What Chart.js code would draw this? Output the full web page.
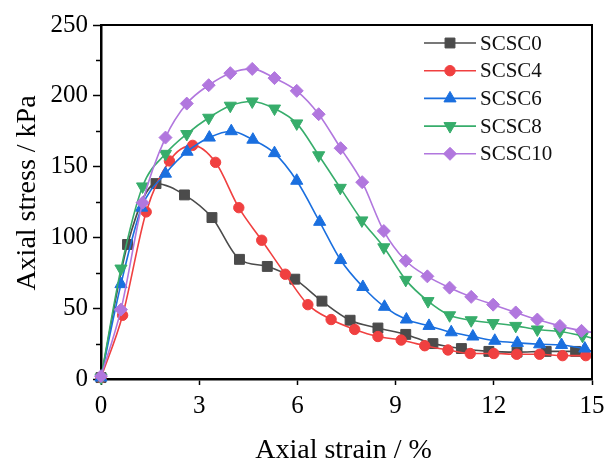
<!DOCTYPE html>
<html>
<head>
<meta charset="utf-8">
<script src="https://cdn.jsdelivr.net/npm/chart.js@4/dist/chart.umd.min.js"></script>
<style>
  html, body { margin: 0; padding: 0; background: #ffffff; }
  #wrap { width: 604px; height: 462px; position: relative; }
</style>
</head>
<body>
<div id="wrap"><canvas id="c" width="604" height="462"></canvas></div>
<script>
// Stress–strain curves of the SCSC specimens
const seriesNames = ['SCSC0', 'SCSC4', 'SCSC6', 'SCSC8', 'SCSC10'];

const strain0  = [0, 0.81, 1.68, 2.55, 3.39, 4.23, 5.08, 5.92, 6.75, 7.61, 8.46, 9.31, 10.14, 11.01, 11.85, 12.71, 13.6, 14.5, 15];
const stress0  = [1, 95, 138, 130, 114, 84.5, 79.5, 70.5, 55, 41.5, 36, 31.5, 25, 21.5, 19.5, 19, 19.5, 19.5, 20];

const strain4  = [0, 0.66, 1.38, 2.09, 2.80, 3.50, 4.21, 4.91, 5.63, 6.32, 7.03, 7.75, 8.46, 9.17, 9.89, 10.6, 11.28, 12.0, 12.7, 13.4, 14.1, 14.81];
const stress4  = [1, 45, 118, 154, 165, 153, 121, 98, 74, 52.5, 42, 35, 30, 27.5, 23.5, 20.5, 18, 18, 17.5, 17.5, 16.5, 16.5];

const strain6  = [0, 0.61, 1.24, 1.97, 2.63, 3.31, 3.98, 4.64, 5.30, 5.98, 6.68, 7.32, 8.0, 8.66, 9.33, 10.02, 10.7, 11.36, 12.03, 12.72, 13.4, 14.07, 14.78];
const stress6  = [1, 67, 121, 145, 160.5, 170.5, 175, 169, 159.5, 140, 111, 84, 65, 51, 42, 37.5, 33, 30, 27, 25.5, 24.5, 24, 21.5];

const strain8  = [0, 0.61, 1.27, 1.97, 2.62, 3.29, 3.95, 4.62, 5.30, 5.98, 6.65, 7.31, 7.97, 8.64, 9.31, 9.99, 10.65, 11.31, 11.98, 12.67, 13.33, 14.02, 14.71, 15];
const stress8  = [1, 78, 136, 159, 173, 184.5, 193, 196, 191, 180.5, 158, 135, 112, 93, 70, 55, 45, 41.5, 39.5, 37.5, 35, 33.5, 30.5, 29];

const strain10 = [0, 0.61, 1.27, 1.97, 2.62, 3.29, 3.95, 4.62, 5.30, 5.98, 6.65, 7.32, 7.98, 8.64, 9.31, 9.97, 10.65, 11.31, 11.98, 12.67, 13.33, 14.02, 14.68, 15];
const stress10 = [2, 49, 124.5, 170.5, 194.5, 207.5, 216, 219, 212.5, 203.5, 187, 163, 139, 104.5, 83.5, 72.5, 64.5, 58, 52.5, 47, 42, 37.5, 34, 33];

// curves whose last value is only the end of the line (no symbol there)
const lineRunsToEdge = [true, false, false, true, true];

const xTicks = [0, 3, 6, 9, 12, 15];
const yTicks = [0, 50, 100, 150, 200, 250];

const colors = ['#4b4b4b', '#f04040', '#1a6fdf', '#37ad6b', '#b177de'];
const markers = [
  { pointStyle: 'rect',     radius: 7,   rotation: 0 },
  { pointStyle: 'circle',   radius: 5.2, rotation: 0 },
  { pointStyle: 'triangle', radius: 7,   rotation: 0 },
  { pointStyle: 'triangle', radius: 7,   rotation: 180 },
  { pointStyle: 'rectRot',  radius: 6.5, rotation: 0 }
];

const SERIF = '"Liberation Serif", "Times New Roman", serif';

const strains = [strain0, strain4, strain6, strain8, strain10];
const stresses = [stress0, stress4, stress6, stress8, stress10];

const datasets = seriesNames.map((name, i) => {
  const n = strains[i].length;
  return {
    label: name,
    data: strains[i].map((x, k) => ({ x: x, y: stresses[i][k] })),
    borderColor: colors[i],
    backgroundColor: colors[i],
    pointBackgroundColor: colors[i],
    pointBorderColor: colors[i],
    borderWidth: 1.6,
    pointBorderWidth: 1,
    pointStyle: markers[i].pointStyle,
    pointRotation: markers[i].rotation,
    pointRadius: ctx => (lineRunsToEdge[i] && ctx.dataIndex === n - 1) ? 0 : markers[i].radius,
    pointHoverRadius: markers[i].radius,
    cubicInterpolationMode: 'monotone',
    clip: false,
    order: seriesNames.length - i
  };
});

// frame, minor ticks, axis titles and legend
const decorations = {
  id: 'decorations',
  afterDraw(chart) {
    const ctx = chart.ctx;
    const a = chart.chartArea;
    const ys = chart.scales.y;
    ctx.save();
    ctx.strokeStyle = '#000';
    ctx.lineWidth = 2;
    ctx.beginPath();
    ctx.moveTo(a.left, a.top);
    ctx.lineTo(a.right, a.top);
    ctx.lineTo(a.right, a.bottom);
    ctx.stroke();

    // minor ticks on the stress axis
    ctx.lineWidth = 1.5;
    for (let v = 25; v < 250; v += 50) {
      const py = Math.round(ys.getPixelForValue(v)) + 0.5;
      ctx.beginPath();
      ctx.moveTo(a.left - 5, py);
      ctx.lineTo(a.left, py);
      ctx.stroke();
    }

    // axis titles
    ctx.fillStyle = '#000';
    ctx.font = '28px ' + SERIF;
    ctx.textAlign = 'center';
    ctx.textBaseline = 'alphabetic';
    ctx.fillText('Axial strain / %', (a.left + a.right) / 2 - 3, 458);
    ctx.save();
    ctx.translate(35, 193);
    ctx.rotate(-Math.PI / 2);
    ctx.fillText('Axial stress / kPa', 0, 0);
    ctx.restore();

    // legend
    const lx0 = 424, lx1 = 476, tx = 480, y0 = 43, dy = 27.7;
    ctx.font = '21px ' + SERIF;
    ctx.textAlign = 'left';
    ctx.textBaseline = 'middle';
    seriesNames.forEach((name, i) => {
      const y = y0 + i * dy;
      ctx.strokeStyle = colors[i];
      ctx.lineWidth = 1.6;
      ctx.beginPath();
      ctx.moveTo(lx0, y);
      ctx.lineTo(lx1, y);
      ctx.stroke();
      ctx.fillStyle = colors[i];
      ctx.lineWidth = 1;
      Chart.helpers.drawPoint(ctx, {
        pointStyle: markers[i].pointStyle,
        rotation: markers[i].rotation,
        radius: markers[i].radius,
        borderWidth: 1
      }, (lx0 + lx1) / 2, y);
      ctx.fillStyle = '#111';
      ctx.fillText(name, tx, y + 1);
    });
    ctx.restore();
  }
};

new Chart(document.getElementById('c'), {
  type: 'line',
  data: { datasets: datasets },
  options: {
    responsive: false,
    animation: false,
    events: [],
    layout: { padding: { left: 1, right: 12, top: 25, bottom: 0 } },
    plugins: { legend: { display: false }, tooltip: { enabled: false } },
    scales: {
      x: {
        type: 'linear',
        min: 0, max: 15,
        afterFit: s => { s.height = 83; s.paddingLeft = 0; s.paddingRight = 0; },
        afterBuildTicks: s => { s.ticks = xTicks.map(v => ({ value: v })); },
        grid: { display: true, drawOnChartArea: false, drawTicks: true, tickLength: 6, tickWidth: 1.5, tickColor: '#000' },
        border: { display: true, color: '#000', width: 2.5 },
        ticks: { color: '#000', font: { family: SERIF, size: 25 }, padding: 6, maxRotation: 0 }
      },
      y: {
        type: 'linear',
        min: 0, max: 250,
        afterFit: s => { s.width = 100; s.paddingTop = 0; s.paddingBottom = 0; },
        afterBuildTicks: s => { s.ticks = yTicks.map(v => ({ value: v })); },
        grid: { display: true, drawOnChartArea: false, drawTicks: true, tickLength: 8, tickWidth: 1.5, tickColor: '#000' },
        border: { display: true, color: '#000', width: 2.5 },
        ticks: { color: '#000', font: { family: SERIF, size: 25 }, padding: 5 }
      }
    }
  },
  plugins: [decorations]
});
</script>
</body>
</html>
